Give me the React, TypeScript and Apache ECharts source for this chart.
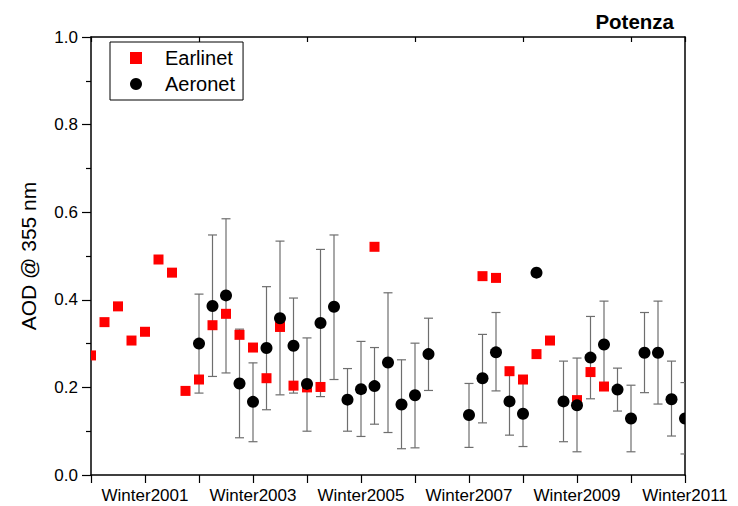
import React, { useEffect, useRef } from "react";
import * as echarts from "echarts";

// Season index: 0 = Winter2000, one step per season, 44 = Winter2011
const earlinetIdx = [0, 1, 2, 3, 4, 5, 6, 7, 8, 9, 10, 11, 12, 13, 14, 15, 16, 17, 21, 29, 30, 31, 32, 33, 34, 36, 37, 38];
const earlinetAod = [0.273, 0.349, 0.385, 0.307, 0.327, 0.492, 0.462, 0.192, 0.218, 0.342, 0.368, 0.32, 0.291, 0.221, 0.338, 0.204, 0.2, 0.201, 0.521, 0.454, 0.45, 0.237, 0.218, 0.276, 0.307, 0.171, 0.235, 0.202];

const aeronetIdx = [8, 9, 10, 11, 12, 13, 14, 15, 16, 17, 18, 19, 20, 21, 22, 23, 24, 25, 28, 29, 30, 31, 32, 33, 35, 36, 37, 38, 39, 40, 41, 42, 43, 44];
const aeronetAod = [0.3, 0.386, 0.41, 0.209, 0.167, 0.29, 0.358, 0.295, 0.208, 0.347, 0.384, 0.172, 0.196, 0.203, 0.257, 0.161, 0.182, 0.276, 0.137, 0.221, 0.28, 0.168, 0.14, 0.462, 0.168, 0.159, 0.268, 0.298, 0.195, 0.129, 0.279, 0.279, 0.173, 0.129];
const aeronetLow = [0.187, 0.225, 0.233, 0.085, 0.076, 0.149, 0.183, 0.187, 0.1, 0.179, 0.218, 0.1, 0.088, 0.116, 0.097, 0.06, 0.062, 0.193, 0.063, 0.119, 0.192, 0.091, 0.065, null, 0.076, 0.053, 0.174, 0.202, 0.146, 0.053, 0.188, 0.162, 0.089, 0.048];
const aeronetHigh = [0.413, 0.548, 0.585, 0.333, 0.256, 0.43, 0.534, 0.404, 0.313, 0.515, 0.548, 0.243, 0.305, 0.291, 0.416, 0.263, 0.301, 0.358, 0.209, 0.321, 0.371, 0.239, 0.218, null, 0.26, 0.267, 0.362, 0.397, 0.244, 0.205, 0.371, 0.397, 0.26, 0.211];

const firstYear = 2000;
const seasonCount = 44;

const FONT = "Liberation Sans, Arial, sans-serif";
const RED = "#ff0000";
const SQUARE = 10;
const DOT = 12;

export default function App() {
  const ref = useRef<HTMLDivElement>(null);

  useEffect(() => {
    if (!ref.current) return;
    const chart = echarts.init(ref.current, undefined, { renderer: "svg" });

    const earlinetData = earlinetIdx.map((x, i) => [x, earlinetAod[i]]);
    const aeronetData = aeronetIdx.map((x, i) => [x, aeronetAod[i]]);
    const barData = aeronetIdx
      .map((x, i) => [x, aeronetLow[i], aeronetHigh[i]])
      .filter((d) => d[1] != null && d[2] != null);

    // Markers are drawn by custom series so that they are cut at the frame edges
    const squareItem = (_p: any, api: any) => {
      const c = api.coord([api.value(0), api.value(1)]);
      return {
        type: "rect",
        shape: { x: c[0] - SQUARE / 2, y: c[1] - SQUARE / 2, width: SQUARE, height: SQUARE },
        style: { fill: RED },
      };
    };
    const dotItem = (_p: any, api: any) => {
      const c = api.coord([api.value(0), api.value(1)]);
      return { type: "circle", shape: { cx: c[0], cy: c[1], r: DOT / 2 }, style: { fill: "#000" } };
    };

    chart.setOption({
      animation: false,
      textStyle: { fontFamily: FONT },
      title: {
        text: "Potenza",
        right: 59,
        top: 6,
        textStyle: { fontFamily: FONT, fontSize: 20.5, fontWeight: "bold", color: "#000" },
      },
      legend: {
        left: 110,
        top: 42,
        orient: "vertical",
        backgroundColor: "#fff",
        borderColor: "#000",
        borderWidth: 1,
        borderRadius: 0,
        padding: [6, 8, 6, 20],
        itemGap: 6,
        itemWidth: 12,
        itemHeight: 12,
        textStyle: { fontFamily: FONT, fontSize: 20, color: "#000", padding: [0, 0, 0, 18] },
        data: [
          { name: "Earlinet", icon: "rect", itemStyle: { color: RED } },
          { name: "Aeronet", icon: "circle", itemStyle: { color: "#000" } },
        ],
      },
      grid: { left: 91, right: 53, top: 37, bottom: 31, containLabel: false },
      xAxis: [
        {
          type: "value",
          position: "bottom",
          min: 0,
          max: seasonCount,
          interval: 4,
          splitLine: { show: false },
          axisLine: { show: true, onZero: false, lineStyle: { color: "#000", width: 1.5 } },
          axisTick: { show: true, inside: false, length: 8, lineStyle: { color: "#000", width: 1.2 } },
          axisLabel: {
            margin: 12,
            fontFamily: FONT,
            fontSize: 17,
            color: "#000",
            showMinLabel: true,
            showMaxLabel: true,
            formatter: (v: number) => ((v - 4) % 8 === 0 ? "Winter" + (firstYear + v / 4) : ""),
          },
        },
        {
          type: "value",
          position: "top",
          min: 0,
          max: seasonCount,
          interval: 8,
          splitLine: { show: false },
          axisLine: { show: true, onZero: false, lineStyle: { color: "#000", width: 1.5 } },
          axisTick: { show: true, inside: true, length: 5, lineStyle: { color: "#000", width: 1.2 } },
          axisLabel: { show: false },
        },
      ],
      yAxis: [
        {
          type: "value",
          position: "left",
          min: 0,
          max: 1,
          interval: 0.2,
          name: "AOD @ 355 nm",
          nameLocation: "middle",
          nameGap: 52,
          nameTextStyle: { fontFamily: FONT, fontSize: 21, color: "#000" },
          splitLine: { show: false },
          axisLine: { show: true, onZero: false, lineStyle: { color: "#000", width: 1.5 } },
          axisTick: { show: true, inside: false, length: 9, lineStyle: { color: "#000", width: 1.2 } },
          minorTick: { show: true, splitNumber: 2, length: 5, lineStyle: { color: "#000", width: 1.2 } },
          axisLabel: {
            margin: 13,
            fontFamily: FONT,
            fontSize: 17,
            color: "#000",
            formatter: (v: number) => v.toFixed(1),
          },
        },
        {
          type: "value",
          position: "right",
          min: 0,
          max: 1,
          interval: 0.2,
          splitLine: { show: false },
          axisLine: { show: true, onZero: false, lineStyle: { color: "#000", width: 1.5 } },
          axisTick: { show: false },
          axisLabel: { show: false },
        },
      ],
      series: [
        {
          name: "Aeronet range",
          type: "custom",
          xAxisIndex: 0,
          yAxisIndex: 0,
          clip: true,
          z: 1,
          silent: true,
          data: barData,
          encode: { x: 0, y: [1, 2] },
          renderItem: (_params: any, api: any) => {
            const x = api.value(0);
            const lo = api.coord([x, api.value(1)]);
            const hi = api.coord([x, api.value(2)]);
            const hw = 4.5;
            const style = { stroke: "#6e6e6e", lineWidth: 1.2 };
            return {
              type: "group",
              children: [
                { type: "line", shape: { x1: lo[0], y1: lo[1], x2: hi[0], y2: hi[1] }, style },
                { type: "line", shape: { x1: hi[0] - hw, y1: hi[1], x2: hi[0] + hw, y2: hi[1] }, style },
                { type: "line", shape: { x1: lo[0] - hw, y1: lo[1], x2: lo[0] + hw, y2: lo[1] }, style },
              ],
            };
          },
        },
        {
          name: "Earlinet",
          type: "custom",
          xAxisIndex: 0,
          yAxisIndex: 0,
          clip: true,
          z: 2,
          silent: true,
          itemStyle: { color: RED },
          encode: { x: 0, y: 1 },
          data: earlinetData,
          renderItem: squareItem,
        },
        {
          name: "Aeronet",
          type: "custom",
          xAxisIndex: 0,
          yAxisIndex: 0,
          clip: true,
          z: 3,
          silent: true,
          itemStyle: { color: "#000" },
          encode: { x: 0, y: 1 },
          data: aeronetData,
          renderItem: dotItem,
        },
      ],
    });

    return () => chart.dispose();
  }, []);

  return (
    <div
      ref={ref}
      style={{ position: "fixed", left: 0, top: 0, width: 738, height: 506, background: "#fff" }}
    />
  );
}
